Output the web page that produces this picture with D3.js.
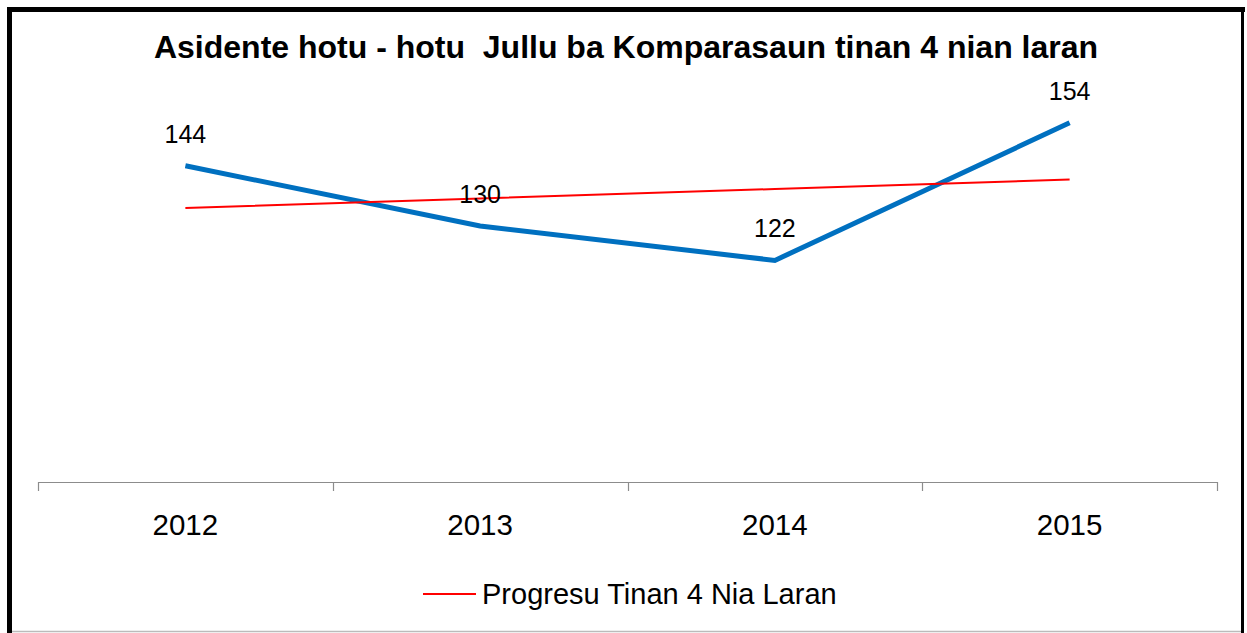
<!DOCTYPE html>
<html><head><meta charset="utf-8">
<script src="https://cdn.jsdelivr.net/npm/d3@7"></script>
<style>html,body{margin:0;padding:0;background:#fff;}svg{display:block;}</style>
</head><body>
<script>
const categories = ["2012","2013","2014","2015"];
const values = [144,130,122,154];
const titleText = "Asidente hotu - hotu  Jullu ba Komparasaun tinan 4 nian laran";
const legendText = "Progresu Tinan 4 Nia Laran";

const W = 1247, H = 633;
const svg = d3.select("body").append("svg").attr("width", W).attr("height", H);
svg.append("rect").attr("width", W).attr("height", H).attr("fill", "#fff");

// frame
svg.append("line").attr("x1",9.5).attr("x2",9.5).attr("y1",7).attr("y2",633).attr("stroke","#000").attr("stroke-width",5);
svg.append("line").attr("x1",7).attr("x2",1245).attr("y1",9.5).attr("y2",9.5).attr("stroke","#000").attr("stroke-width",5);
svg.append("line").attr("x1",1242.5).attr("x2",1242.5).attr("y1",7).attr("y2",633).attr("stroke","#000").attr("stroke-width",3);
svg.append("line").attr("x1",12).attr("x2",1241).attr("y1",631.5).attr("y2",631.5).attr("stroke","#bbb").attr("stroke-width",1.5);

const x = d3.scaleBand().domain(categories).range([38,1217]).paddingInner(0).paddingOuter(0);
const y = d3.scaleLinear().domain([70,160]).range([484,97]);
const cx = d => x(d) + x.bandwidth()/2;

// title
svg.append("text").attr("x", 626).attr("y", 58).attr("text-anchor","middle")
  .style("white-space","pre")
  .attr("font-family","Liberation Sans, Arial, sans-serif").attr("font-weight","bold").attr("font-size",32)
  .attr("fill","#000").text(titleText);

// x axis
const axisY = 482;
svg.append("line").attr("x1",38).attr("x2",1217).attr("y1",axisY+0.5).attr("y2",axisY+0.5).attr("stroke","#8c8c8c").attr("stroke-width",1.2);
const ticks = categories.map(c => x(c)).concat([x(categories[categories.length-1]) + x.bandwidth()]);
svg.selectAll(".tk").data(ticks).enter().append("line")
  .attr("x1", d => Math.round(d)+0.5).attr("x2", d => Math.round(d)+0.5)
  .attr("y1", axisY).attr("y2", axisY+9).attr("stroke","#8c8c8c").attr("stroke-width",1.2);
svg.selectAll(".xl").data(categories).enter().append("text")
  .attr("x", d => cx(d)).attr("y", 535).attr("text-anchor","middle")
  .attr("font-family","Liberation Sans, Arial, sans-serif").attr("font-size",29.5).attr("fill","#000")
  .text(d => d);

// trend line (linear regression)
const xs = values.map((v,i)=>i+1);
const mx = d3.mean(xs), my = d3.mean(values);
const slope = d3.sum(xs.map((xi,i)=>(xi-mx)*(values[i]-my))) / d3.sum(xs.map(xi=>(xi-mx)*(xi-mx)));
const icpt = my - slope*mx;
const trend = xs.map(xi => icpt + slope*xi);

const line = d3.line().x((d,i)=>cx(categories[i])).y(d=>y(d));
svg.append("path").datum(values).attr("d", line).attr("fill","none")
  .attr("stroke","#0070C0").attr("stroke-width",5).attr("stroke-linejoin","miter");
svg.append("path").datum(trend).attr("d", line).attr("fill","none")
  .attr("stroke","#FF0000").attr("stroke-width",2);

// data labels
svg.selectAll(".dl").data(values).enter().append("text")
  .attr("x",(d,i)=>cx(categories[i])).attr("y", d => y(d) - 23).attr("text-anchor","middle")
  .attr("font-family","Liberation Sans, Arial, sans-serif").attr("font-size",25).attr("fill","#000")
  .text(d=>d);

// legend
svg.append("line").attr("x1",423).attr("x2",476).attr("y1",594).attr("y2",594).attr("stroke","#FF0000").attr("stroke-width",2);
svg.append("text").attr("x",482).attr("y",604).attr("font-family","Liberation Sans, Arial, sans-serif")
  .attr("font-size",29).attr("fill","#000").text(legendText);
</script>
</body></html>
